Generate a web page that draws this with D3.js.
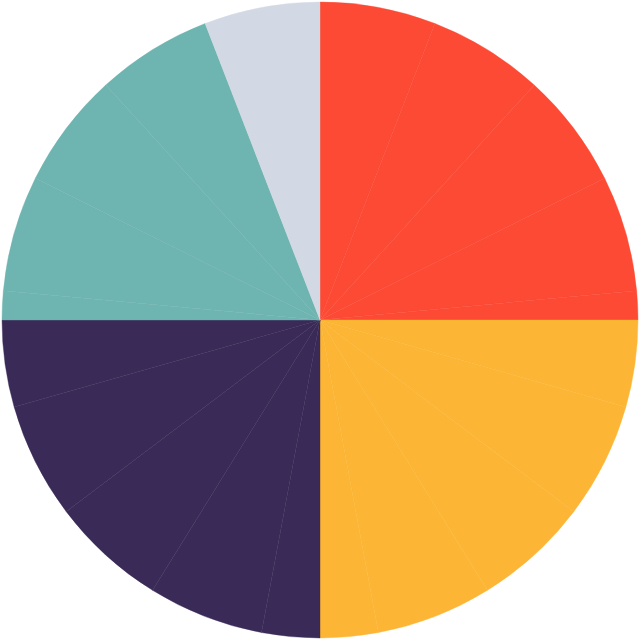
<!DOCTYPE html>
<html>
<head>
<meta charset="utf-8">
<script src="https://cdn.jsdelivr.net/npm/d3@7"></script>
<style>
  html, body { margin: 0; padding: 0; background: #fff; }
  svg { display: block; }
</style>
</head>
<body>
<svg id="chart" width="640" height="641"></svg>
<script>
  // slice values (units of 1/68 of the circle), one entry per wedge, clockwise from 12 o'clock
  var sliceValues = [4, 4, 4, 4, 1,   3, 4, 4, 4, 2,   2, 4, 4, 4, 3,   1, 4, 4, 4,   4];
  // which group each wedge belongs to
  var sliceGroups = ['A', 'A', 'A', 'A', 'A',
                     'B', 'B', 'B', 'B', 'B',
                     'C', 'C', 'C', 'C', 'C',
                     'D', 'D', 'D', 'D',
                     'E'];
  var groups = ['A', 'B', 'C', 'D', 'E'];
  var groupColors = ['#fc4a35', '#fcb534', '#3a2a57', '#6eb4b0', '#d3d9e4'];

  var width = 640,
      height = 641,
      radius = 318;

  var slices = sliceValues.map(function(v, i) {
    return { value: v, group: sliceGroups[i] };
  });

  var color = d3.scaleOrdinal()
    .domain(groups)
    .range(groupColors);

  var pie = d3.pie()
    .sort(null)
    .value(function(d) { return d.value; });

  var arc = d3.arc()
    .innerRadius(0)
    .outerRadius(radius);

  var svg = d3.select('#chart');

  svg.append('g')
    .attr('transform', 'translate(320,320)')
    .selectAll('path')
    .data(pie(slices))
    .enter()
    .append('path')
    .attr('d', arc)
    .attr('fill', function(d) { return color(d.data.group); })
    // thin same-colour stroke so the seams between wedges stay faint
    .attr('stroke', function(d) { return color(d.data.group); })
    .attr('stroke-width', 0.4)
    .attr('stroke-linejoin', 'round');
</script>
</body>
</html>
